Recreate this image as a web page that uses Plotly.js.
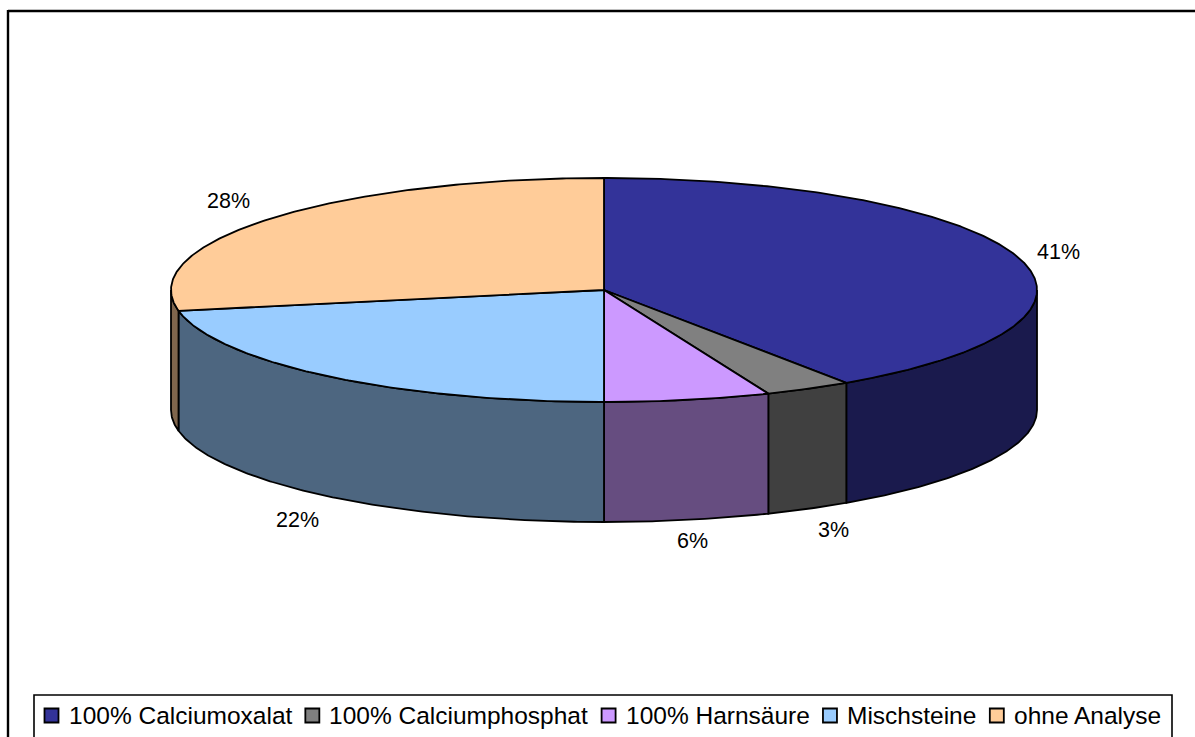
<!DOCTYPE html>
<html>
<head>
<meta charset="utf-8">
<script src="https://cdn.plot.ly/plotly-3.0.1.min.js"></script>
<style>html,body{margin:0;padding:0;background:#fff;overflow:hidden}#chart{width:1195px;height:737px}</style>
</head>
<body>
<div id="chart"></div>
<script>
// Harnsteinarten: share of each stone type, in percent
const categories = ['100% Calciumoxalat', '100% Calciumphosphat', '100% Harnsäure', 'Mischsteine', 'ohne Analyse'];
const shares = [41, 3, 6, 22, 28];
const topColors = ['#333399', '#808080', '#CC99FF', '#99CCFF', '#FFCC99'];
const sideColors = ['#1A1A4D', '#404040', '#664D80', '#4D6680', '#80664D'];

// Tilted disc geometry, in axis units
const disc = {cx: 604, cy: 290, rx: 433, ry: 112, depth: 120, foreshorten: 2.2};
const FONT = 'Liberation Sans, Arial, sans-serif';
const LABEL_SIZE = 21.5, LEGEND_SIZE = 24.5;
const rad = d => d * Math.PI / 180;
// Perspective slightly bends the apparent angle between the four axis directions
const view = d => d + disc.foreshorten * Math.pow(Math.sin(rad(2 * d)), 3);
const px = d => disc.cx + disc.rx * Math.sin(rad(view(d)));
const py = d => disc.cy - disc.ry * Math.cos(rad(view(d)));

function arc(a, b) {
  const n = Math.max(2, Math.ceil(Math.abs(b - a) * 2));
  const pts = [];
  for (let i = 0; i <= n; i++) pts.push(a + (b - a) * i / n);
  return pts;
}

const polyTrace = (x, y, color) => ({
  type: 'scatter', mode: 'lines', x, y, fill: 'toself', fillcolor: color,
  line: {color: '#000', width: 1.8}, hoverinfo: 'skip', showlegend: false
});

// Slice angles run clockwise from twelve o'clock
const total = shares.reduce((s, v) => s + v, 0);
let run = 0;
const slices = shares.map(v => {
  const a = run / total * 360;
  run += v;
  return {a, b: run / total * 360};
});

// The rim is only visible on the front half of the disc
const walls = [];
slices.forEach((s, i) => {
  const a = Math.max(s.a, 90), b = Math.min(s.b, 270);
  if (b <= a) return;
  const t = arc(a, b);
  const x = t.map(px), y = t.map(py);
  const xs = x.concat(x.slice().reverse(), [x[0]]);
  const ys = y.concat(y.map(v => v + disc.depth).reverse(), [y[0]]);
  walls.push(polyTrace(xs, ys, sideColors[i]));
});

const tops = slices.map((s, i) => {
  const t = arc(s.a, s.b);
  return polyTrace([disc.cx, ...t.map(px), disc.cx], [disc.cy, ...t.map(py), disc.cy], topColors[i]);
});

// Percent labels sit just outside the disc, below the rim on the front half
const labelNudgeX = [-8, 2, -3, 13, 6];
const labelNudgeY = [-1, 0, -3, 8, -6];
const labels = slices.map((s, i) => {
  const m = view((s.a + s.b) / 2), sin = Math.sin(rad(m)), cos = Math.cos(rad(m));
  return {
    x: disc.cx + (disc.rx + 48) * sin + labelNudgeX[i],
    y: disc.cy - (disc.ry + 24) * cos + (cos < 0 ? disc.depth : 0) + labelNudgeY[i],
    text: shares[i] + '%', showarrow: false, xanchor: 'center', yanchor: 'middle',
    font: {family: FONT, size: LABEL_SIZE, color: '#000'}
  };
});

// Legend row: swatch and text advance by the measured width of each name
const ctx = document.createElement('canvas').getContext('2d');
ctx.font = LEGEND_SIZE + 'px "Liberation Sans"';
const legendBox = {x0: 34, x1: 1172, y0: 695, y1: 760, rowY: 715.5};
let cursor = 44;
const swatchX = [], legendText = [];
categories.forEach(name => {
  swatchX.push(cursor + 7.5);
  legendText.push({
    x: cursor + 22.5, y: legendBox.rowY, text: name, showarrow: false,
    xanchor: 'left', yanchor: 'middle',
    font: {family: FONT, size: LEGEND_SIZE, color: '#000'}
  });
  cursor += 24 + ctx.measureText(name).width + 13.5;
});
const swatches = categories.map((name, i) => ({
  type: 'scatter', mode: 'markers', x: [swatchX[i]], y: [legendBox.rowY], name,
  marker: {symbol: 'square', size: 14, color: topColors[i], line: {color: '#000', width: 1.8}},
  hoverinfo: 'name', showlegend: false
}));

const frame = [
  {type: 'line', x0: 8, x1: 1195, y0: 11, y1: 11, line: {color: '#000', width: 2.4}},
  {type: 'line', x0: 8, x1: 8, y0: 10, y1: 737, line: {color: '#000', width: 2.4}},
  {type: 'rect', layer: 'below', x0: legendBox.x0, x1: legendBox.x1, y0: legendBox.y0, y1: legendBox.y1,
   line: {color: '#000', width: 1.6}, fillcolor: '#fff'}
];

const hidden = {visible: false, fixedrange: true};
Plotly.newPlot('chart', [...walls, ...tops, ...swatches], {
  width: 1195, height: 737,
  margin: {l: 0, r: 0, t: 0, b: 0},
  paper_bgcolor: '#fff', plot_bgcolor: '#fff',
  xaxis: {...hidden, range: [0, 1195]},
  yaxis: {...hidden, range: [737, 0]},
  shapes: frame,
  annotations: [...labels, ...legendText],
  showlegend: false
}, {displayModeBar: false, staticPlot: true});
</script>
</body>
</html>
